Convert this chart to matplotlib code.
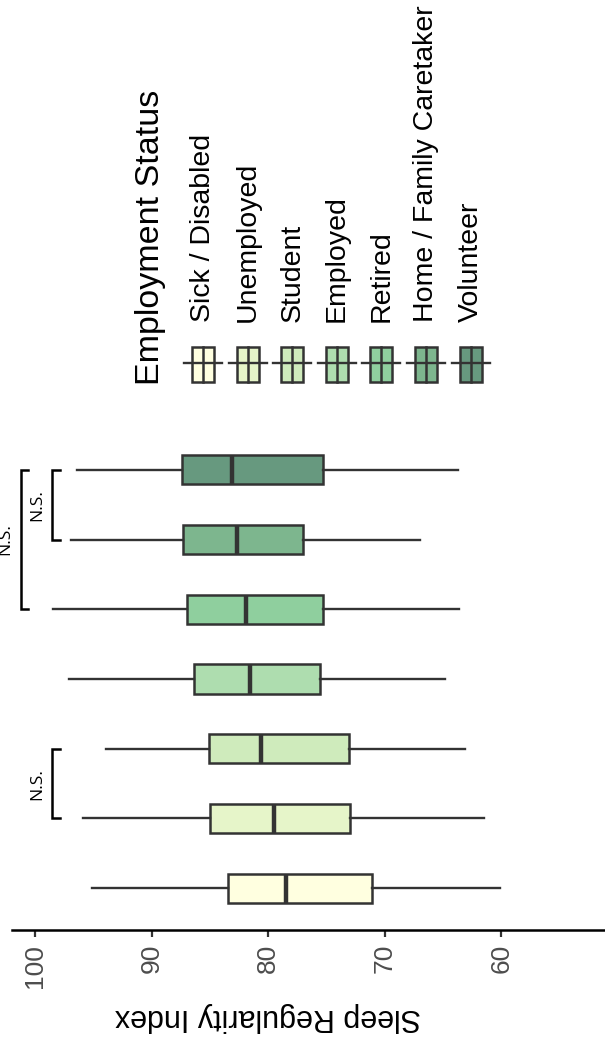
import matplotlib
matplotlib.use("Agg")
import matplotlib.pyplot as plt
import matplotlib.transforms as mtransforms
from matplotlib.patches import Rectangle
from matplotlib.lines import Line2D

categories = ["Sick / Disabled", "Unemployed", "Student", "Employed",
              "Retired", "Home / Family Caretaker", "Volunteer"]
whisker_low = [60.1, 61.5, 63.1, 64.8, 63.6, 67.0, 63.7]
q1 = [71.1, 73.0, 73.1, 75.6, 75.3, 77.0, 75.3]
median = [78.5, 79.5, 80.6, 81.6, 81.9, 82.7, 83.1]
q3 = [83.5, 85.0, 85.1, 86.4, 87.0, 87.3, 87.4]
whisker_high = [95.1, 95.9, 93.9, 97.1, 98.5, 96.9, 96.4]
colors = ["#FFFFE0", "#E6F5C9", "#CFEBBC", "#AEDDAF", "#8FCF9E", "#7DB68E", "#67997F"]
# significance brackets: (group a, group b, label)
brackets = [(1, 2, "N.S."), (5, 6, "N.S."), (4, 6, "N.S.")]
xticks = [100, 90, 80, 70, 60]

W, H = 605, 1045
fig = plt.figure(figsize=(W / 100, H / 100), dpi=100)
FONT = ["Liberation Sans", "DejaVu Sans"]

ax = fig.add_axes([12 / W, 1 - 930 / H, 1 - 12 / W, (930 - 428) / H])
ax.set_xlim(102.0, 51.1)
ax.set_ylim(-0.6, 6.6)

edge = "#333333"
stats = []
for i, c in enumerate(categories):
    stats.append(dict(med=median[i], q1=q1[i], q3=q3[i],
                      whislo=whisker_low[i], whishi=whisker_high[i],
                      fliers=[], label=c))
bp = ax.bxp(stats, positions=list(range(len(categories))), vert=False,
            widths=0.42, patch_artist=True, showcaps=False,
            boxprops=dict(edgecolor=edge, linewidth=1.8),
            whiskerprops=dict(color=edge, linewidth=1.7),
            medianprops=dict(color=edge, linewidth=3.2),
            manage_ticks=False)
for patch, col in zip(bp["boxes"], colors):
    patch.set_facecolor(col)

for s in ["top", "right", "left"]:
    ax.spines[s].set_visible(False)
ax.spines["bottom"].set_linewidth(1.8)
ax.spines["bottom"].set_color("black")
ax.set_yticks([])
ax.set_xticks(xticks)
ax.set_xticklabels([str(t) for t in xticks], rotation=90, fontsize=19,
                   family=FONT, color="#4d4d4d")
ax.tick_params(axis="x", length=5, width=1.6, color="#333333", pad=5)
for lab in ax.get_xticklabels():
    lab.set_va("top")

ax.text(80, (H - 1017) / H, "Sleep Regularity Index", rotation=180,
        transform=mtransforms.blended_transform_factory(ax.transData, fig.transFigure),
        ha="center", va="center", fontsize=22, family=FONT, color="black")

# significance brackets
def draw_bracket(a, b, label, xline, xtick, xtext):
    ax.plot([xtick, xline, xline, xtick], [a, a, b, b], color="black",
            lw=1.8, clip_on=False, solid_joinstyle="miter")
    ax.text(xtext, (a + b) / 2, label, rotation=90, ha="center", va="center",
            fontsize=12.5, family=["Open Sans", "DejaVu Sans"], clip_on=False)

draw_bracket(1, 2, "N.S.", 98.55, 97.85, 99.85)
draw_bracket(5, 6, "N.S.", 98.55, 97.85, 99.85)
draw_bracket(4, 6, "N.S.", 101.2, 100.6, 102.6)

# legend (rotated)
def fx(px):
    return px / W

def fy(py):
    return 1 - py / H

fig.text(fx(150), fy(385), "Employment Status", rotation=90, ha="center",
         va="bottom", fontsize=24.5, family=FONT)
key_x0, key_dx = 203, 44.6
for i, (c, col) in enumerate(zip(categories, colors)):
    cx = key_x0 + i * key_dx
    # whisker
    fig.add_artist(Line2D([fx(cx - 19), fx(cx + 19)], [fy(363), fy(363)],
                          color=edge, lw=1.7))
    fig.add_artist(Rectangle((fx(cx - 11), fy(381.5)), 22 / W, 34.5 / H,
                             facecolor=col, edgecolor=edge, lw=1.8,
                             transform=fig.transFigure))
    fig.add_artist(Line2D([fx(cx), fx(cx)], [fy(347), fy(381.5)],
                          color=edge, lw=1.8))
    fig.text(fx(cx), fy(322), c, rotation=90, ha="center", va="bottom",
             fontsize=20.5, family=FONT)

fig.savefig("out.png", dpi=100)
